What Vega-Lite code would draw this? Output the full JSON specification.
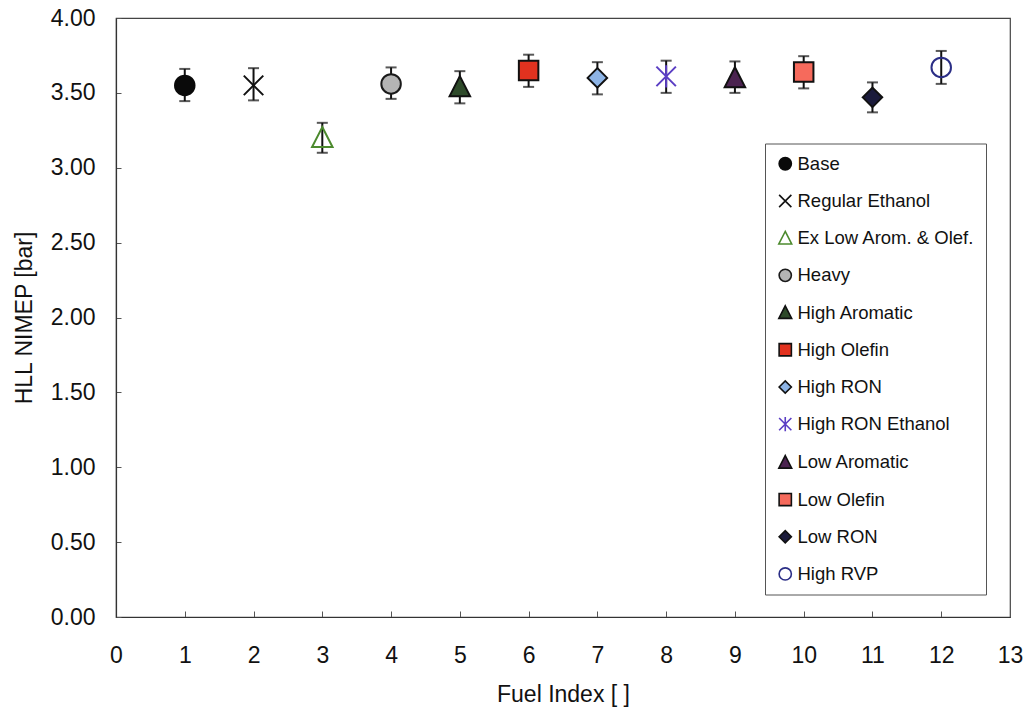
{
  "$schema": "https://vega.github.io/schema/vega-lite/v6.json",
  "width": 894,
  "height": 599,
  "autosize": "none",
  "padding": {"left": 116, "top": 18, "right": 19, "bottom": 97},
  "background": "white",
  "config": {
    "font": "Liberation Sans",
    "view": {"stroke": "#444444", "strokeWidth": 1.2},
    "axis": {
      "grid": false,
      "domainColor": "#333333",
      "domainWidth": 1.2,
      "tickColor": "#555555",
      "labelColor": "#111111",
      "titleColor": "#111111",
      "labelFontSize": 23,
      "titleFontSize": 23,
      "titleFontWeight": "normal",
      "labelFlush": false,
      "labelOverlap": false
    },
    "legend": {
      "orient": "none",
      "legendX": 649,
      "legendY": 125.5,
      "padding": 11,
      "strokeColor": "#555555",
      "fillColor": "white",
      "labelFontSize": 18.5,
      "labelLimit": 400,
      "labelColor": "#111111",
      "labelOffset": 3,
      "symbolSize": 150,
      "symbolStrokeWidth": 1.6,
      "rowPadding": 17.2
    }
  },
  "data": {
    "values": [
      {"fuel": "Base", "fuelIndex": 1, "nimep": 3.55, "lo": 3.445, "hi": 3.66},
      {"fuel": "Regular Ethanol", "fuelIndex": 2, "nimep": 3.55, "lo": 3.45, "hi": 3.665},
      {"fuel": "Ex Low Arom. & Olef.", "fuelIndex": 3, "nimep": 3.2, "lo": 3.1, "hi": 3.3},
      {"fuel": "Heavy", "fuelIndex": 4, "nimep": 3.56, "lo": 3.46, "hi": 3.67},
      {"fuel": "High Aromatic", "fuelIndex": 5, "nimep": 3.54, "lo": 3.43, "hi": 3.645},
      {"fuel": "High Olefin", "fuelIndex": 6, "nimep": 3.65, "lo": 3.54, "hi": 3.755},
      {"fuel": "High RON", "fuelIndex": 7, "nimep": 3.6, "lo": 3.49, "hi": 3.705},
      {"fuel": "High RON Ethanol", "fuelIndex": 8, "nimep": 3.61, "lo": 3.5, "hi": 3.715},
      {"fuel": "Low Aromatic", "fuelIndex": 9, "nimep": 3.6, "lo": 3.5, "hi": 3.71},
      {"fuel": "Low Olefin", "fuelIndex": 10, "nimep": 3.64, "lo": 3.53, "hi": 3.745},
      {"fuel": "Low RON", "fuelIndex": 11, "nimep": 3.47, "lo": 3.37, "hi": 3.57},
      {"fuel": "High RVP", "fuelIndex": 12, "nimep": 3.67, "lo": 3.56, "hi": 3.78}
    ]
  },
  "layer": [
    {
      "mark": {"type": "rule", "color": "#111111", "strokeWidth": 2},
      "encoding": {
        "x": {
          "field": "fuelIndex",
          "type": "quantitative",
          "scale": {"domain": [0, 13], "nice": false, "zero": false},
          "axis": {
            "title": "Fuel Index [ ]",
            "values": [0, 1, 2, 3, 4, 5, 6, 7, 8, 9, 10, 11, 12, 13],
            "format": "d",
            "tickSize": -6,
            "labelPadding": 33,
            "titlePadding": 16
          }
        },
        "y": {
          "field": "lo",
          "type": "quantitative",
          "scale": {"domain": [0, 4], "nice": false},
          "axis": {
            "title": "HLL NIMEP [bar]",
            "values": [0, 0.5, 1, 1.5, 2, 2.5, 3, 3.5, 4],
            "format": ".2f",
            "tickSize": -5,
            "labelPadding": 26,
            "titlePadding": 14
          }
        },
        "y2": {"field": "hi"}
      }
    },
    {
      "mark": {"type": "tick", "orient": "horizontal", "color": "#111111", "size": 11, "thickness": 2},
      "encoding": {
        "x": {"field": "fuelIndex", "type": "quantitative"},
        "y": {"field": "hi", "type": "quantitative"}
      }
    },
    {
      "mark": {"type": "tick", "orient": "horizontal", "color": "#111111", "size": 11, "thickness": 2},
      "encoding": {
        "x": {"field": "fuelIndex", "type": "quantitative"},
        "y": {"field": "lo", "type": "quantitative"}
      }
    },
    {
      "mark": {"type": "point", "size": 380, "strokeWidth": 2, "opacity": 1, "fillOpacity": 1},
      "encoding": {
        "x": {"field": "fuelIndex", "type": "quantitative"},
        "y": {"field": "nimep", "type": "quantitative"},
        "shape": {
          "field": "fuel",
          "type": "nominal",
          "title": null,
          "scale": {
            "domain": ["Base", "Regular Ethanol", "Ex Low Arom. & Olef.", "Heavy", "High Aromatic", "High Olefin", "High RON", "High RON Ethanol", "Low Aromatic", "Low Olefin", "Low RON", "High RVP"],
            "range": ["circle", "M-1,-1L1,1M-1,1L1,-1", "M0,-1.1L1.05,0.95L-1.05,0.95Z", "circle", "M0,-1.1L1.05,0.95L-1.05,0.95Z", "square", "diamond", "M-1,-1L1,1M-1,1L1,-1M0,-1.15L0,1.15", "M0,-1.1L1.05,0.95L-1.05,0.95Z", "square", "diamond", "circle"]
          }
        },
        "fill": {
          "field": "fuel",
          "type": "nominal",
          "title": null,
          "scale": {
            "domain": ["Base", "Regular Ethanol", "Ex Low Arom. & Olef.", "Heavy", "High Aromatic", "High Olefin", "High RON", "High RON Ethanol", "Low Aromatic", "Low Olefin", "Low RON", "High RVP"],
            "range": ["#0a0a0a", "transparent", "transparent", "#b4b4b4", "#2e4a2a", "#e2321f", "#8db4e6", "transparent", "#4b2350", "#f66a5c", "#1b1b3b", "transparent"]
          }
        },
        "stroke": {
          "field": "fuel",
          "type": "nominal",
          "title": null,
          "scale": {
            "domain": ["Base", "Regular Ethanol", "Ex Low Arom. & Olef.", "Heavy", "High Aromatic", "High Olefin", "High RON", "High RON Ethanol", "Low Aromatic", "Low Olefin", "Low RON", "High RVP"],
            "range": ["#0a0a0a", "#111111", "#4c8a2e", "#1a1a1a", "#111111", "#111111", "#111111", "#5b3ec4", "#111111", "#111111", "#111111", "#2b2e86"]
          }
        }
      }
    }
  ]
}
